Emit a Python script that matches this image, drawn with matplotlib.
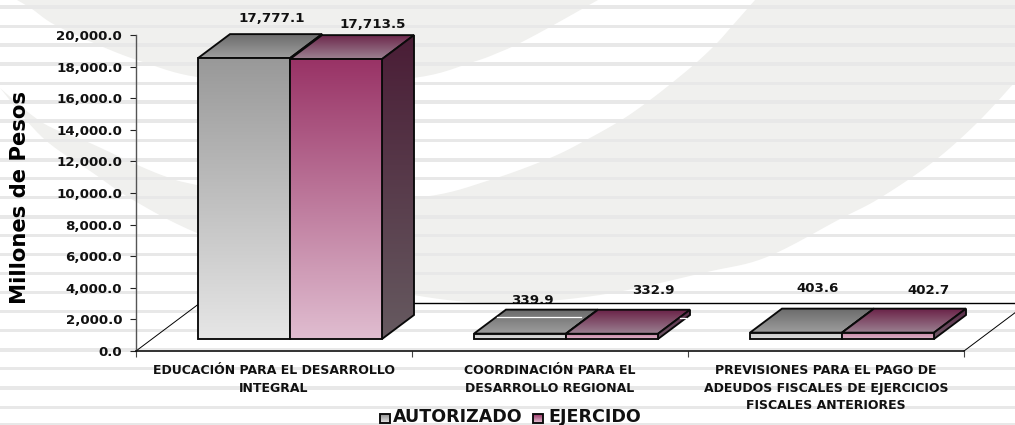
import numpy as np
import matplotlib
matplotlib.use("Agg")
import matplotlib.pyplot as plt
from matplotlib.patches import Polygon
from matplotlib.colors import to_rgb

categories = ["EDUCACIÓN PARA EL DESARROLLO\nINTEGRAL",
              "COORDINACIÓN PARA EL\nDESARROLLO REGIONAL",
              "PREVISIONES PARA EL PAGO DE\nADEUDOS FISCALES DE EJERCICIOS\nFISCALES ANTERIORES"]
autorizado = [17777.1, 339.9, 403.6]
ejercido = [17713.5, 332.9, 402.7]
series_names = ["AUTORIZADO", "EJERCIDO"]
yticks = list(range(0, 20001, 2000))
ylabel = "Millones de Pesos"

W, H = 1015, 425
plt.rcParams['font.family'] = ['DejaVu Sans']
fig = plt.figure(figsize=(W / 100, H / 100), dpi=100, facecolor='white')

# ---- background, in pixel coordinates
bg = fig.add_axes([0, 0, 1, 1], zorder=0)
bg.axis('off')


def smooth(pts, n=8):
    p = np.array([pts[0]] + list(pts) + [pts[-1]], float)
    out = []
    for i in range(1, len(p) - 2):
        for t in np.linspace(0, 1, n, endpoint=False):
            out.append(0.5 * (2 * p[i] + (p[i + 1] - p[i - 1]) * t
                              + (2 * p[i - 1] - 5 * p[i] + 4 * p[i + 1] - p[i + 2]) * t ** 2
                              + (3 * p[i] - p[i - 1] - 3 * p[i + 1] + p[i + 2]) * t ** 3))
    out.append(p[-2])
    return np.array(out)


cap = smooth([(17, 0), (32, 9), (55, 25), (103, 47), (143, 62), (197, 77), (290, 84), (413, 78),
              (473, 62), (500, 52), (520, 43), (550, 27), (598, 0)])
upper = smooth([(0, 88), (43, 123), (90, 143), (133, 163), (167, 177), (197, 185), (300, 205),
                (423, 197), (490, 180), (550, 158), (588, 139), (623, 119), (650, 100), (673, 82),
                (697, 62), (717, 43), (733, 25), (755, 0)])
lower = smooth([(1015, 82), (977, 123), (933, 162), (880, 198), (840, 219), (767, 257), (707, 272),
                (600, 295), (500, 303), (413, 295), (300, 270), (197, 233), (133, 200), (93, 173),
                (43, 138), (0, 88)])
GR = '#f0f0ee'
bg.add_patch(Polygon(cap, fc=GR, ec='none'))
bg.add_patch(Polygon(np.vstack([upper, [(1015, 0)], lower]), fc=GR, ec='none'))
for a, b in [(5, 9), (25, 28), (43, 47), (62, 66), (82, 85), (100, 104), (119, 123), (139, 142),
             (158, 162), (177, 180), (196, 199), (215, 219), (234, 237), (253, 256), (272, 275),
             (291, 294), (310, 313), (329, 332), (348, 352), (367, 370), (386, 390), (406, 409),
             (423, 425)]:
    bg.fill_between([0, W], a, b, color='#e8e8e8', lw=0)


def gradient(ax, pts, c_top, c_bot, z):
    pts = np.array(pts, float)
    g = np.linspace(to_rgb(c_top), to_rgb(c_bot), 128)[:, None, :]
    ytop, ybot = (pts[:, 1].max(), pts[:, 1].min()) if ax is not bg else (pts[:, 1].min(), pts[:, 1].max())
    im = ax.imshow(g, extent=(pts[:, 0].min(), pts[:, 0].max(), ybot, ytop), origin='upper',
                   aspect='auto', zorder=z, interpolation='bilinear')
    poly = Polygon(pts, fc='none', ec='#0a0a0a', lw=1.35, zorder=z + .1, joinstyle='miter', clip_on=False)
    ax.add_patch(poly)
    im.set_clip_path(poly)
    im.set_clip_box(fig.bbox)


TXT = '#111111'
lab = dict(ha='center', va='center', fontweight='bold', color=TXT, fontsize=9.6)
for s, x, y in [("17,777.1", 272, 18), ("17,713.5", 373, 24), ("339.9", 532, 300),
                ("332.9", 653, 291), ("403.6", 818, 288), ("402.7", 929, 290)]:
    bg.text(x, y, s, zorder=6, **lab)

# legend swatches and text
for sx, c0, c1, name, tx in [(380, '#8f8f8f', '#e8e8e8', series_names[0], 393),
                             (533, '#993366', '#e6c6d6', series_names[1], 548)]:
    gradient(bg, [(sx, 414), (sx + 10, 414), (sx + 10, 423), (sx, 423)], c0, c1, 5)
    bg.text(tx, 416.5, name, ha='left', va='center', fontweight='bold', fontsize=12.6, color=TXT)

bg.set_xlim(0, W)
bg.set_ylim(H, 0)

# ---- chart axes
L, R, T, B = 136, 964, 35, 351
ax = fig.add_axes([L / W, 1 - B / H, (R - L) / W, (B - T) / H], zorder=2)
ax.patch.set_alpha(0)
PX = 3 / (R - L)
PY = 20000 / (B - T)
dx, dy = 32 * PX, 24 * PY  # bar depth
fx, fy = 16 * PX, 12 * PY  # bar offset from the floor front
bw = 1 / 3

# floor and wall lines
ax.plot([0, 2 * dx], [0, 2 * dy], color='k', lw=.7, zorder=1, clip_on=False)
ax.plot([2 * dx, (W - L) * PX], [2 * dy, 2 * dy], color='k', lw=1, zorder=1, clip_on=False)
ax.plot([3, (W - L) * PX], [0, (W - R) * PX / dx * dy], color='k', lw=.7, zorder=1, clip_on=False)

COL = [dict(front=('#999999', '#e6e6e6'), top=('#6c6c6c', '#9e9e9e'), side=('#555555', '#777777')),
       dict(front=('#993366', '#e0bdd0'), top=('#6b2449', '#9c8292'), side=('#4a1d36', '#665a60'))]
z = 2
for i in range(3):
    for j, vals in enumerate((autorizado, ejercido)):
        x0 = i + 0.5 - bw + fx + j * bw
        x1 = x0 + bw
        y0, y1 = fy, fy + vals[i]
        c = COL[j]
        if vals[i] > 2000:
            fc = c['front']
            sc = c['side']
        else:
            fc = ('#c4809f', '#dcb4c8') if j else ('#c4c4c4', '#dedede')
            sc = ('#5a2a48', '#705a68')
        gradient(ax, [(x0, y1), (x0 + dx, y1 + dy), (x1 + dx, y1 + dy), (x1, y1)], *c['top'], z)
        gradient(ax, [(x1, y0), (x1 + dx, y0 + dy), (x1 + dx, y1 + dy), (x1, y1)], *sc, z + .2)
        gradient(ax, [(x0, y0), (x1, y0), (x1, y1), (x0, y1)], *fc, z + .4)
        z += 1

# thin white streaks present on the flat bar tops
ax.plot([497, 581], [317, 317], color='white', lw=.9, zorder=30, transform=bg.transData, clip_on=False)
ax.plot([680, 686], [318, 318], color='white', lw=.9, zorder=30, transform=bg.transData, clip_on=False)

ax.set_xlim(0, 3)
ax.set_ylim(0, 20000)
ax.set_yticks(yticks)
ax.set_yticklabels([f"{v:,.1f}" for v in yticks], fontweight='bold', fontsize=9.6, color=TXT)
ax.set_xticks([0, 1, 2, 3])
ax.set_xticklabels([])
ax.set_xticks([.5, 1.5, 2.5], minor=True)
ax.set_xticklabels(categories, minor=True, fontweight='bold', fontsize=9.0, color=TXT, linespacing=1.45)
ax.tick_params(axis='x', which='minor', length=0, pad=9.5)
ax.tick_params(axis='x', which='major', length=4.5, width=.8, color='#444444')
ax.tick_params(axis='y', length=4.5, width=.8, color='#222222', pad=5.5)
for s in ('top', 'right'):
    ax.spines[s].set_visible(False)
ax.spines['left'].set_color('#555555')
ax.spines['left'].set_linewidth(1)
ax.spines['bottom'].set_color('k')
ax.spines['bottom'].set_linewidth(1.1)

fig.text(20 / W, 1 - 198 / H, ylabel, rotation=90, ha='center', va='center',
         fontweight='bold', fontsize=15.2, color='k')

fig.savefig('out.png', dpi=100)
